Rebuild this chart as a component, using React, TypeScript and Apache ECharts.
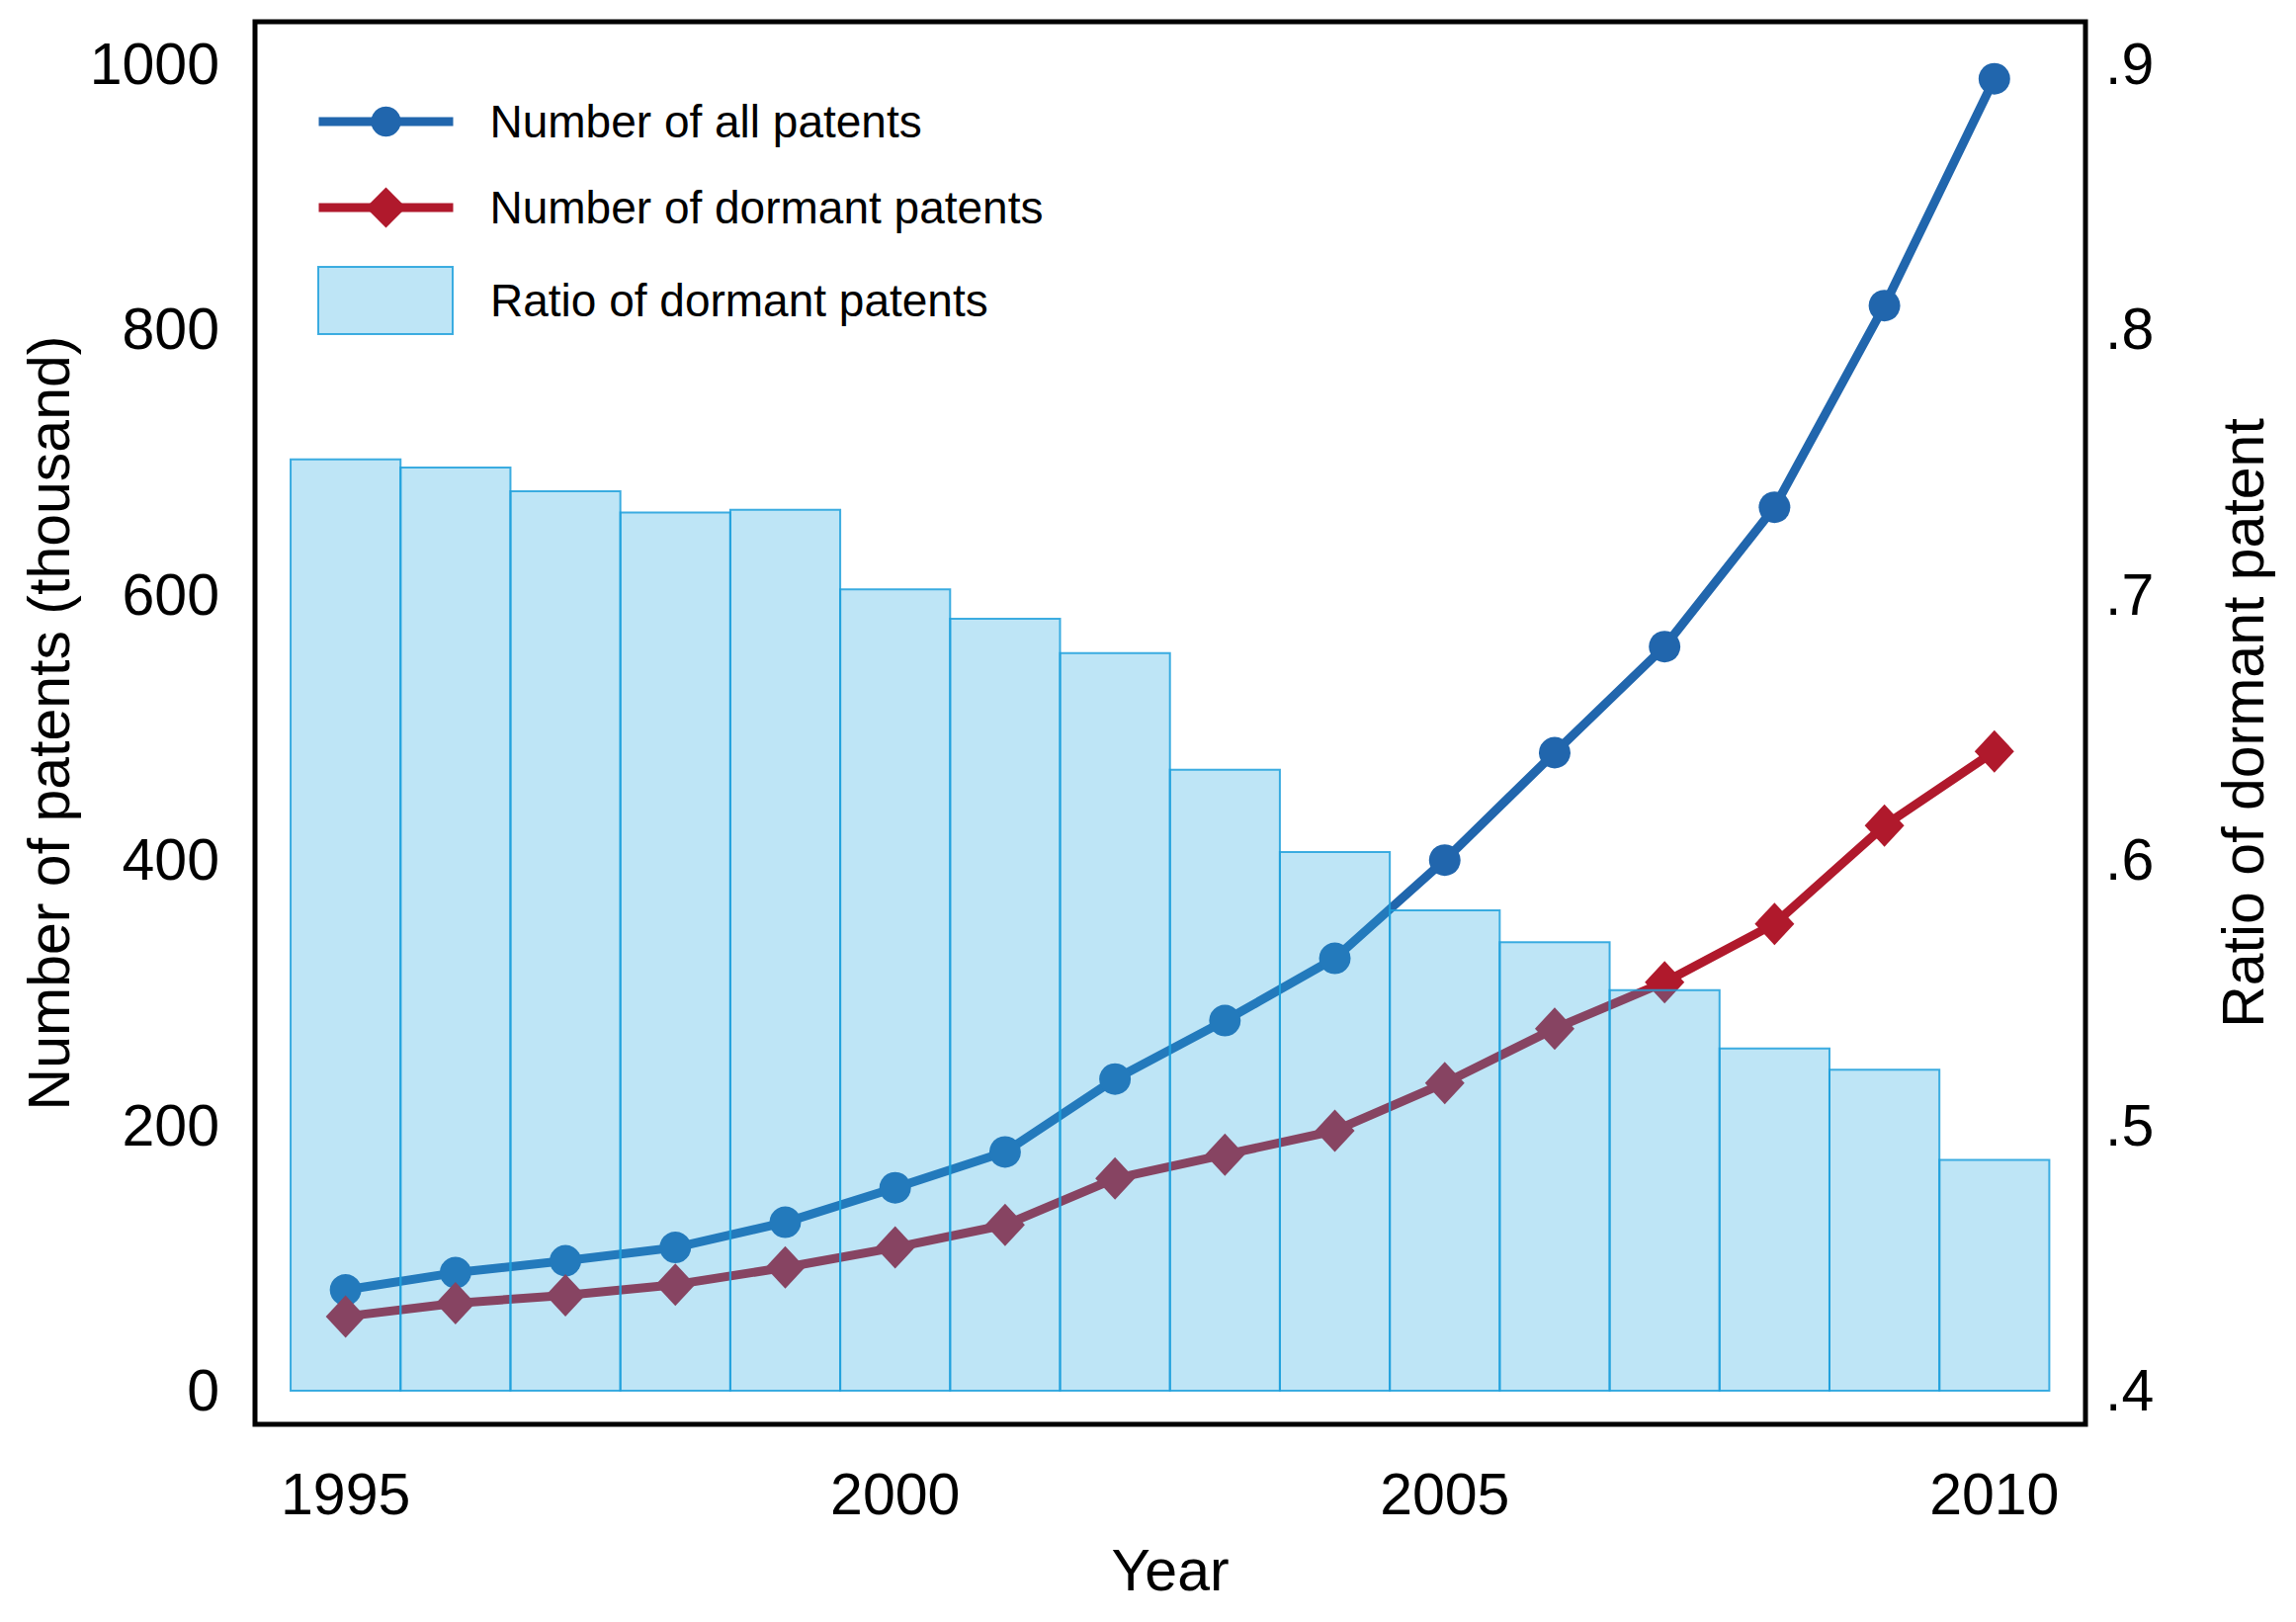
import React, { useEffect, useRef } from "react";
import * as echarts from "echarts";

const years = [1995, 1996, 1997, 1998, 1999, 2000, 2001, 2002, 2003, 2004, 2005, 2006, 2007, 2008, 2009, 2010];
const allPatents = [76, 89, 98, 108, 127, 153, 180, 235, 279, 326, 400, 481, 561, 666, 818, 989];
const dormantPatents = [56, 66, 72, 80, 93, 108, 125, 160, 178, 196, 232, 273, 308, 352, 426, 482];
const dormantRatio = [0.751, 0.748, 0.739, 0.731, 0.732, 0.702, 0.691, 0.678, 0.634, 0.603, 0.581, 0.569, 0.551, 0.529, 0.521, 0.487];

const xTicks = [1995, 2000, 2005, 2010];
const leftTicks = [0, 200, 400, 600, 800, 1000];
const rightTicks = [0.4, 0.5, 0.6, 0.7, 0.8, 0.9];

const NAME_ALL = "Number of all patents";
const NAME_DORMANT = "Number of dormant patents";
const NAME_RATIO = "Ratio of dormant patents";

const FONT = "'Liberation Sans', Arial, Helvetica, sans-serif";
const BLUE = "#2166ad";
const RED = "#b0192c";
const BAR_FILL = "rgba(40, 168, 224, 0.30)";
const BAR_STROKE = "rgba(30, 160, 220, 0.85)";
const LINE_W = 9;

export default function App() {
  const ref = useRef<HTMLDivElement>(null);

  useEffect(() => {
    if (!ref.current) return;
    const chart = echarts.init(ref.current, null, { renderer: "svg" });
    const ratioBase = rightTicks[0];

    const legendCommon = {
      orient: "vertical",
      padding: 0,
      itemWidth: 136,
      selectedMode: false,
    };
    const legendText = (pad: number) => ({
      fontSize: 46,
      color: "#000",
      fontFamily: FONT,
      padding: [0, 0, 0, pad],
    });

    const option: any = {
      animation: false,
      backgroundColor: "#fff",
      textStyle: { fontFamily: FONT },
      grid: {
        left: 258,
        top: 22,
        right: 213,
        bottom: 200,
        show: true,
        borderColor: "#000",
        borderWidth: 5,
        backgroundColor: "transparent",
        containLabel: false,
      },
      legend: [
        {
          ...legendCommon,
          left: 318,
          top: 100,
          itemHeight: 38,
          textStyle: legendText(32),
          data: [{ name: NAME_ALL, lineStyle: { color: BLUE, width: LINE_W } }],
        },
        {
          ...legendCommon,
          left: 318,
          top: 187,
          itemHeight: 51,
          textStyle: legendText(32),
          data: [{ name: NAME_DORMANT, lineStyle: { color: RED, width: LINE_W } }],
        },
        {
          ...legendCommon,
          left: 321,
          top: 269,
          itemHeight: 68,
          textStyle: legendText(33),
          data: [
            {
              name: NAME_RATIO,
              icon: "rect",
              itemStyle: { color: BAR_FILL, borderColor: BAR_STROKE, borderWidth: 2 },
            },
          ],
        },
      ],
      xAxis: {
        type: "value",
        min: 1994.176,
        max: 2010.829,
        axisLine: { show: false },
        axisTick: { show: false },
        splitLine: { show: false },
        axisLabel: {
          customValues: xTicks,
          fontSize: 59,
          color: "#000",
          margin: 41,
          fontFamily: FONT,
          formatter: (v: number) => String(Math.round(v)),
        },
        name: "Year",
        nameLocation: "middle",
        nameGap: 118,
        nameTextStyle: { fontSize: 59, color: "#000", fontFamily: FONT },
      },
      yAxis: [
        {
          type: "value",
          position: "left",
          min: -25.3,
          max: 1032,
          axisLine: { show: false },
          axisTick: { show: false },
          splitLine: { show: false },
          axisLabel: {
            customValues: leftTicks,
            fontSize: 59,
            color: "#000",
            margin: 36,
            fontFamily: FONT,
            formatter: (v: number) => String(Math.round(v)),
          },
          name: "Number of patents (thousand)",
          nameLocation: "middle",
          nameRotate: 90,
          nameGap: 154,
          nameTextStyle: { fontSize: 59, color: "#000", fontFamily: FONT },
        },
        {
          type: "value",
          position: "right",
          min: 0.3873,
          max: 0.916,
          axisLine: { show: false },
          axisTick: { show: false },
          splitLine: { show: false },
          axisLabel: {
            customValues: rightTicks,
            fontSize: 59,
            color: "#000",
            margin: 20,
            fontFamily: FONT,
            formatter: (v: number) => v.toFixed(1).replace(/^0/, ""),
          },
          name: "Ratio of dormant patent",
          nameLocation: "middle",
          nameRotate: 90,
          nameGap: 130,
          nameTextStyle: { fontSize: 59, color: "#000", fontFamily: FONT },
        },
      ],
      series: [
        {
          name: NAME_ALL,
          type: "line",
          xAxisIndex: 0,
          yAxisIndex: 0,
          z: 2,
          data: years.map((y, i) => [y, allPatents[i]]),
          symbol: "circle",
          symbolSize: 32,
          lineStyle: { color: BLUE, width: LINE_W },
          itemStyle: { color: BLUE },
        },
        {
          name: NAME_DORMANT,
          type: "line",
          xAxisIndex: 0,
          yAxisIndex: 0,
          z: 2,
          data: years.map((y, i) => [y, dormantPatents[i]]),
          symbol: "diamond",
          symbolSize: [40, 43],
          lineStyle: { color: RED, width: LINE_W },
          itemStyle: { color: RED },
        },
        {
          name: NAME_RATIO,
          type: "custom",
          coordinateSystem: "cartesian2d",
          xAxisIndex: 0,
          yAxisIndex: 1,
          z: 5,
          encode: { x: 0, y: 1 },
          itemStyle: { color: BAR_FILL, borderColor: BAR_STROKE, borderWidth: 2 },
          data: years.map((y, i) => [y, dormantRatio[i]]),
          renderItem: (params: any, api: any) => {
            const x = api.value(0);
            const v = api.value(1);
            const p1 = api.coord([x - 0.5, v]);
            const p2 = api.coord([x + 0.5, ratioBase]);
            return {
              type: "rect",
              shape: { x: p1[0], y: p1[1], width: p2[0] - p1[0], height: p2[1] - p1[1] },
              style: { fill: BAR_FILL, stroke: BAR_STROKE, lineWidth: 2 },
            };
          },
        },
      ],
    };

    chart.setOption(option);
    return () => chart.dispose();
  }, []);

  return (
    <div
      ref={ref}
      style={{ position: "absolute", left: 0, top: 0, width: 2323, height: 1641, background: "#fff" }}
    />
  );
}
